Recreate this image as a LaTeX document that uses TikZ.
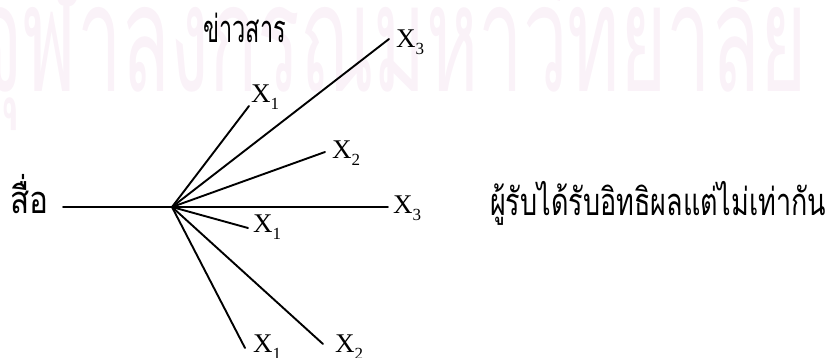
\documentclass[tikz,border=0pt]{standalone}
\usepackage{fontspec}
\setmainfont{Liberation Serif}
\newfontfamily\thai[Script=Thai]{Loma}
\definecolor{wmark}{RGB}{250,242,248}
\newcommand\xlab[1]{X\raisebox{-7pt}{\fontsize{17}{17}\selectfont #1}}
\tikzset{
  ray/.style={line width=1.9pt, line cap=round},
  xl/.style={anchor=base west, inner sep=0pt, font=\fontsize{27}{27}\selectfont},
  th/.style={anchor=base west, inner sep=0pt, font=\thai\fontsize{38}{38}\selectfont, transform shape},
}
\begin{document}
\begin{tikzpicture}[x=1pt,y=-1pt]
\useasboundingbox (0,0) rectangle (832,358);
\begin{scope}
\clip (0,0) rectangle (832,358);
\node[anchor=base west, inner sep=0pt, text=wmark, font=\thai\fontsize{150}{150}\selectfont, xscale=0.53, transform shape] (wm) at (-24,92) {จุฬาลงกรณ์มหาวิทยาลัย};
\end{scope}
\coordinate (hub) at (172,207);
\coordinate (lstart) at (63,207);
\coordinate (e1) at (249,106);
\coordinate (e2) at (389,39);
\coordinate (e3) at (325,152);
\coordinate (e4) at (388,207);
\coordinate (e5) at (248,228);
\coordinate (e6) at (245,348);
\coordinate (e7) at (323,344);
\node[th, xscale=0.83] (media) at (10,214) {สื่อ};
\node[th, xscale=0.62] (msg) at (203,43) {ข่าวสาร};
\node[th, xscale=0.71] (recv) at (490,215) {ผู้รับได้รับอิทธิผลแต่ไม่เท่ากัน};
\node[xl] (l1) at (251,103) {\xlab{1}};
\node[xl] (l2) at (396,48) {\xlab{3}};
\node[xl] (l3) at (332,159) {\xlab{2}};
\node[xl] (l4) at (393,213) {\xlab{3}};
\node[xl] (l5) at (253,232) {\xlab{1}};
\node[xl] (l6) at (253,352) {\xlab{1}};
\node[xl] (l7) at (335,352) {\xlab{2}};
\draw[ray] (lstart) -- (hub);
\foreach \e in {e1,e2,e3,e4,e5,e6,e7} \draw[ray] (hub) -- (\e);
\end{tikzpicture}
\end{document}
